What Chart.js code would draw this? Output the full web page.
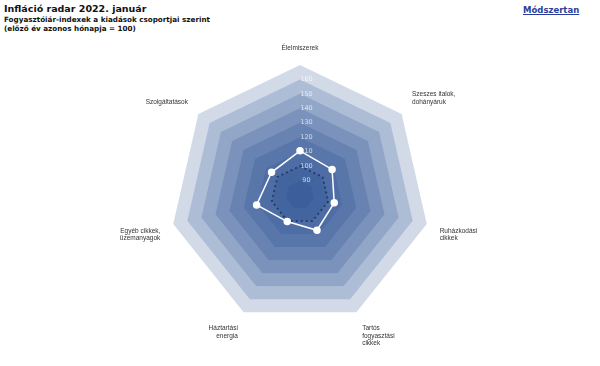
<!DOCTYPE html>
<html>
<head>
<meta charset="utf-8">
<script src="https://cdn.jsdelivr.net/npm/chart.js@4"></script>
<style>
  body { margin: 0; background: #fff; width: 600px; height: 366px; overflow: hidden; position: relative; }
  .title { position: absolute; left: 4px; top: 3px; font-family: "DejaVu Sans", sans-serif; font-weight: bold; color: #111; }
  .title .main { font-size: 9.5px; line-height: 12px; }
  .title .sub { font-size: 7.2px; line-height: 9px; }
  .link { position: absolute; left: 523px; top: 5px; font-family: "DejaVu Sans", sans-serif; font-size: 8.5px; font-weight: bold; color: #2a3d9c; text-decoration: underline; }
  #wrap { position: absolute; left: 0; top: 43px; width: 600px; height: 306px; }
</style>
</head>
<body>
<div class="title">
  <div class="main">Infláció radar 2022. január</div>
  <div class="sub">Fogyasztóiár-indexek a kiadások csoportjai szerint</div>
  <div class="sub">(előző év azonos hónapja = 100)</div>
</div>
<a class="link">Módszertan</a>
<div id="wrap"><canvas id="radar"></canvas></div>
<script>
const categories = [
  "Élelmiszerek",
  ["Szeszes italok,", "dohányáruk"],
  ["Ruházkodási", "cikkek"],
  ["Tartós", "fogyasztási", "cikkek"],
  ["Háztartási", "energia"],
  ["Egyéb cikkek,", "üzemanyagok"],
  "Szolgáltatások"
];
const indexValues = [110.6, 108.4, 104.3, 107.1, 100.4, 110.8, 105.2];
const baseLine = [100, 100, 100, 100, 100, 100, 100];
const bandLevels = [170, 160, 150, 140, 130, 120, 110, 100, 90];
const tickMin = 80;
const tickMax = 170;
const tickStep = 10;

const bandSets = bandLevels.map(level => ({
  data: categories.map(() => level),
  backgroundColor: "rgba(30, 70, 140, 0.2)",
  borderWidth: 0,
  pointRadius: 0,
  fill: "origin",
  order: 10
}));

new Chart(document.getElementById("radar"), {
  type: "radar",
  data: {
    labels: categories,
    datasets: [
      {
        data: indexValues,
        borderColor: "#ffffff",
        borderWidth: 1.5,
        pointBackgroundColor: "#ffffff",
        pointBorderColor: "#ffffff",
        pointRadius: 3,
        fill: false,
        order: 1
      },
      {
        data: baseLine,
        borderColor: "rgba(25, 45, 95, 0.8)",
        borderWidth: 1.8,
        borderDash: [2, 3],
        pointRadius: 0,
        fill: false,
        order: 2
      },
      ...bandSets
    ]
  },
  options: {
    responsive: true,
    maintainAspectRatio: false,
    animation: false,
    plugins: { legend: { display: false }, tooltip: { enabled: false } },
    scales: {
      r: {
        min: tickMin,
        max: tickMax,
        beginAtZero: false,
        grid: { color: "rgba(255, 255, 255, 0.12)" },
        angleLines: { color: "rgba(255, 255, 255, 0.35)" },
        pointLabels: {
          font: { family: "Liberation Sans", size: 6.5 },
          color: "#333",
          padding: 8
        },
        ticks: {
          z: 1,
          stepSize: tickStep,
          showLabelBackdrop: false,
          color: "rgba(255, 255, 255, 0.7)",
          font: { family: "DejaVu Sans", size: 6.5 },
          callback: v => (v === tickMin || v === tickMax) ? "" : "\u2003\u2003" + v
        }
      }
    }
  }
});
</script>
</body>
</html>
